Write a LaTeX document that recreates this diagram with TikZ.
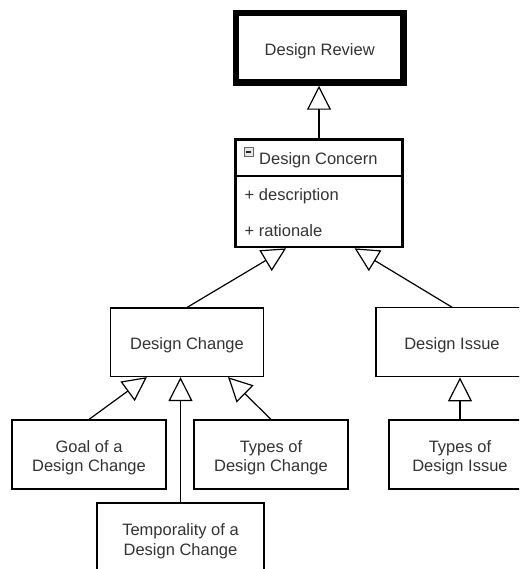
\documentclass[tikz,border=0pt]{standalone}
\usepackage{fontspec}
\setmainfont{Liberation Sans}
\usetikzlibrary{arrows.meta,calc}
\definecolor{txt}{HTML}{333333}
% invisible strut that lowers the label inside a fixed-height box
\newcommand{\lowerstrut}{\rule{0pt}{18pt}}
\begin{document}
\begin{tikzpicture}[x=1pt,y=-1pt,
  every node/.style={font=\fontsize{16.5}{19.5}\selectfont, text=txt},
  box/.style={draw=black, line width=1.2pt, fill=white, align=center, inner sep=0pt},
  gen/.style={draw=black, line width=1.2pt,
    -{Triangle[open, length=24pt, width=24pt]}}]
\useasboundingbox (0,0) rectangle (519,569);
\clip (0,0) rectangle (519,569);

% top level
\node[box, line width=6.5pt, minimum width=167.5pt, minimum height=69.5pt]
  (review) at (319.75,47.75) {\lowerstrut Design Review};

% class box with header and two attributes
\node[box, line width=2.6pt, minimum width=167pt, minimum height=107.5pt]
  (concern) at (319,193.3) {};
\coordinate (divl) at (235.3,176);
\coordinate (divr) at (402.7,176);
\draw[line width=2.6pt] (divl) -- (divr);
\node[draw=gray!80!black, fill=gray!20, line width=0.8pt, minimum size=9pt,
  inner sep=0pt] (collapse) at (248.5,152) {};
\draw[line width=1.2pt, gray!30!black] ($(collapse.west)+(2pt,0)$) -- ($(collapse.east)+(-2pt,0)$);
\node[anchor=base west, inner sep=0pt] (concernname) at (259,164.3) {Design Concern};
\node[anchor=base west, inner sep=0pt] (attrdesc) at (244.5,200.7) {+ description};
\node[anchor=base west, inner sep=0pt] (attrrat) at (244.5,236) {+ rationale};

% second level
\node[box, minimum width=153pt, minimum height=68.5pt]
  (change) at (187,342.3) {\lowerstrut Design Change};
\node[box, minimum width=152pt, minimum height=69pt]
  (issue) at (452,342.3) {\lowerstrut Design Issue};

% third level
\node[box, minimum width=154pt, minimum height=69pt]
  (goal) at (89,454.5) {\lowerstrut Goal of a\\Design Change};
\node[box, minimum width=154pt, minimum height=69pt]
  (typesdc) at (271,454.5) {\lowerstrut Types of\\Design Change};
\node[box, minimum width=167pt, minimum height=70pt]
  (temporal) at (180.5,538) {\lowerstrut Temporality of a\\Design Change};
\node[box, minimum width=142pt, minimum height=69pt]
  (typesdi) at (460,454.5) {\lowerstrut Types of\\Design Issue};

% generalisation connectors
\draw[gen] (concern.north) -- (concern.north |- review.south);
\draw[gen] (change.north) -- ($(concern.south west)!0.306!(concern.south east)$);
\draw[gen] (issue.north) -- ($(concern.south west)!0.71!(concern.south east)$);
\draw[gen] (goal.north) -- ($(change.south west)!0.24!(change.south east)$);
\draw[gen] (temporal.north) -- (temporal.north |- change.south);
\draw[gen] (typesdc.north) -- ($(change.south west)!0.766!(change.south east)$);
\draw[gen] (typesdi.north) -- (typesdi.north |- issue.south);
\end{tikzpicture}
\end{document}
